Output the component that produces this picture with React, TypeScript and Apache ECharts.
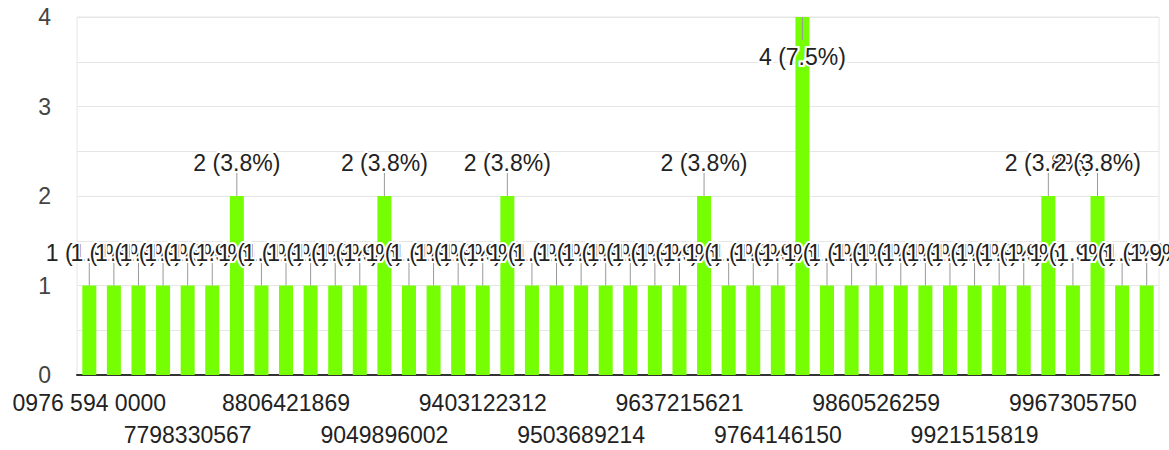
import React, { useEffect, useRef } from "react";
import * as echarts from "echarts";

// Categories (responses). Only every 4th one is labelled in the reference; the
// others cannot be read, so they carry placeholder names.
const categories: string[] = [
  "0976 594 0000", "unlabelled-01", "unlabelled-02", "unlabelled-03",
  "7798330567", "unlabelled-05", "unlabelled-06", "unlabelled-07",
  "8806421869", "unlabelled-09", "unlabelled-10", "unlabelled-11",
  "9049896002", "unlabelled-13", "unlabelled-14", "unlabelled-15",
  "9403122312", "unlabelled-17", "unlabelled-18", "unlabelled-19",
  "9503689214", "unlabelled-21", "unlabelled-22", "unlabelled-23",
  "9637215621", "unlabelled-25", "unlabelled-26", "unlabelled-27",
  "9764146150", "unlabelled-29", "unlabelled-30", "unlabelled-31",
  "9860526259", "unlabelled-33", "unlabelled-34", "unlabelled-35",
  "9921515819", "unlabelled-37", "unlabelled-38", "unlabelled-39",
  "9967305750", "unlabelled-41", "unlabelled-42", "unlabelled-43",
];

const counts: number[] = [
  1, 1, 1, 1, 1, 1, 2, 1, 1, 1, 1, 1,
  2, 1, 1, 1, 1, 2, 1, 1, 1, 1, 1, 1,
  1, 2, 1, 1, 1, 4, 1, 1, 1, 1, 1, 1,
  1, 1, 1, 2, 1, 2, 1, 1,
];

const yTickLabels: number[] = [0, 1, 2, 3, 4];

const FONT = '"Liberation Sans", Arial, sans-serif';

export default function App() {
  const ref = useRef<HTMLDivElement>(null);

  useEffect(() => {
    if (!ref.current) return;
    const chart = echarts.init(ref.current, null, { renderer: "svg" });
    const total = counts.reduce((a, b) => a + b, 0);
    const yMax = yTickLabels[yTickLabels.length - 1];

    const labelStyle = {
      margin: 12,
      color: "#222",
      fontSize: 23,
      fontFamily: FONT,
      lineHeight: 32,
      hideOverlap: false,
    };

    chart.setOption({
      animation: false,
      grid: {
        left: 77,
        right: 10,
        top: 17,
        bottom: 75,
        containLabel: false,
        outerBoundsMode: "none",
        show: true,
        borderColor: "#e6e6e6",
        borderWidth: 1,
        backgroundColor: "transparent",
      },
      xAxis: [
        {
          type: "category",
          data: categories,
          boundaryGap: true,
          axisLine: { show: true, lineStyle: { color: "#333", width: 2 } },
          axisTick: { show: false },
          splitLine: { show: false },
          axisLabel: {
            ...labelStyle,
            interval: (i: number) => i % 8 === 0,
          },
        },
        {
          type: "category",
          data: categories,
          boundaryGap: true,
          position: "bottom",
          offset: 32,
          axisLine: { show: false },
          axisTick: { show: false },
          splitLine: { show: false },
          axisLabel: {
            ...labelStyle,
            interval: (i: number) => i % 8 === 4,
          },
        },
      ],
      yAxis: {
        type: "value",
        min: 0,
        max: yMax,
        interval: 0.5,
        axisLine: { show: false },
        axisTick: { show: false },
        splitLine: { show: true, lineStyle: { color: "#e6e6e6", width: 1 } },
        axisLabel: {
          margin: 26,
          color: "#444",
          fontSize: 23,
          fontFamily: FONT,
          formatter: (v: number) =>
            yTickLabels.includes(v) ? String(v) : "",
        },
      },
      series: [
        {
          type: "bar",
          xAxisIndex: 0,
          data: counts,
          barWidth: 14,
          itemStyle: { color: "#76ff03" },
          z: 2,
        },
        {
          type: "custom",
          xAxisIndex: 0,
          coordinateSystem: "cartesian2d",
          data: counts.map((v, i) => [i, v]),
          encode: { x: 0, y: 1 },
          z: 3,
          renderItem: (params: any, api: any) => {
            const idx = api.value(0);
            const v = api.value(1);
            const top = api.coord([idx, v]);
            const cs = params.coordSys;
            const above = top[1] - 45 >= cs.y;
            const dir = above ? -1 : 1;
            const lineEnd = top[1] + dir * 23;
            const textY = top[1] + dir * (above ? 33 : 40);
            const pct = ((v / total) * 100).toFixed(1);
            return {
              type: "group",
              children: [
                {
                  type: "line",
                  shape: { x1: top[0], y1: top[1], x2: top[0], y2: lineEnd },
                  style: { stroke: "#999", lineWidth: 1 },
                },
                {
                  type: "text",
                  x: top[0],
                  y: textY,
                  style: {
                    text: `${v} (${pct}%)`,
                    fill: "#222",
                    stroke: "#fff",
                    lineWidth: 4,
                    fontSize: 23,
                    fontFamily: FONT,
                    align: "center",
                    verticalAlign: "middle",
                  },
                },
              ],
            };
          },
        },
      ],
    });

    return () => chart.dispose();
  }, []);

  return (
    <div
      ref={ref}
      style={{ position: "absolute", left: 0, top: 0, width: 1169, height: 450 }}
    />
  );
}
